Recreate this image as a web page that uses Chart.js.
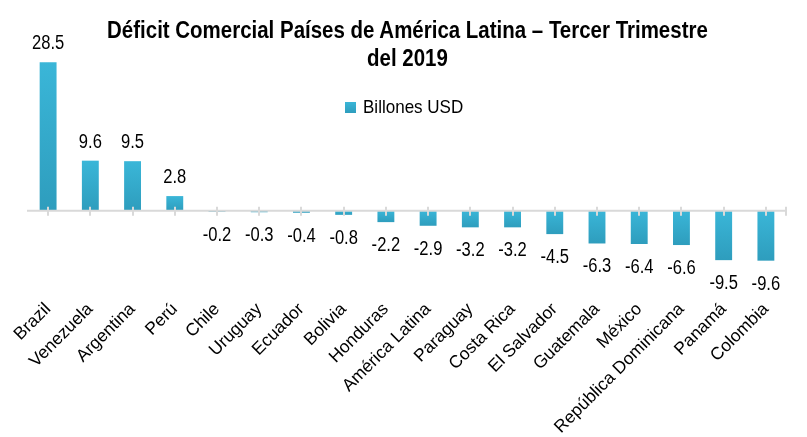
<!DOCTYPE html>
<html>
<head>
<meta charset="utf-8">
<script src="https://cdn.jsdelivr.net/npm/chart.js@4.4.1/dist/chart.umd.min.js"></script>
<style>
  html, body { margin: 0; padding: 0; background: #fff; }
  #wrap { position: relative; width: 807px; height: 437px; }
  #title {
    position: absolute; left: 4px; top: 16px; width: 807px;
    text-align: center; font: bold 23px 'Liberation Sans', Arial, sans-serif;
    line-height: 28px; color: #000;
    transform: scaleX(0.89); transform-origin: 403px 0;
  }
  #legend {
    position: absolute; left: 345px; top: 96px; height: 22px;
    font: 18.5px 'Liberation Sans', Arial, sans-serif; line-height: 22px; color: #000;
    white-space: nowrap;
  }
  #legend .box {
    position: absolute; left: 0; top: 6px; width: 11px; height: 11px;
    background: linear-gradient(#3ab6d8, #2e9dbd);
  }
  #legend .txt {
    position: absolute; left: 18px; top: 0;
    transform: scaleX(0.92); transform-origin: 0 0;
  }
</style>
</head>
<body>
<div id="wrap">
  <canvas id="chart" width="807" height="437"></canvas>
  <div id="title">Déficit Comercial Países de América Latina – Tercer Trimestre<br>del 2019</div>
  <div id="legend"><span class="box"></span><span class="txt" id="legendTxt"></span></div>
</div>
<script>
// Datos del gráfico
const paises = ['Brazil', 'Venezuela', 'Argentina', 'Perú', 'Chile', 'Uruguay', 'Ecuador', 'Bolivia', 'Honduras',
    'América Latina', 'Paraguay', 'Costa Rica', 'El Salvador', 'Guatemala', 'México', 'República Dominicana', 'Panamá', 'Colombia'];
const deficit = [28.5, 9.6, 9.5, 2.8, -0.2, -0.3, -0.4, -0.8, -2.2, -2.9, -3.2, -3.2, -4.5, -6.3, -6.4, -6.6, -9.5, -9.6];
const serie = 'Billones USD';

document.getElementById('legendTxt').textContent = serie;

// degradado por barra (claro arriba, oscuro abajo)
function barFill(ctx) {
    const chart = ctx.chart;
    const y = chart.scales && chart.scales.y;
    if (ctx.type !== 'data' || !y) return '#35acd0';
    const v = ctx.raw;
    const a = y.getPixelForValue(Math.max(v, 0));
    const b = y.getPixelForValue(Math.min(v, 0));
    if (!isFinite(a) || !isFinite(b) || a === b) return '#35acd0';
    const g = chart.ctx.createLinearGradient(0, a, 0, b);
    g.addColorStop(0, '#3ab6d8');
    g.addColorStop(1, '#2e9dbd');
    return g;
}

// línea del cero con marcas y etiquetas de valores
const ejeYValores = {
    id: 'ejeYValores',
    afterDatasetsDraw(chart) {
        const c = chart.ctx;
        const x = chart.scales.x, y = chart.scales.y;
        const y0 = y.getPixelForValue(0);
        const area = chart.chartArea;
        c.save();
        c.strokeStyle = '#d9d9d9';
        c.lineWidth = 2;
        c.beginPath();
        c.moveTo(area.left, y0);
        c.lineTo(area.right, y0);
        paises.forEach((p, i) => {
            const px = Math.round(x.getPixelForValue(i));
            c.moveTo(px, y0 - 4);
            c.lineTo(px, y0 + 5);
        });
        c.moveTo(area.right - 1, y0 - 4);
        c.lineTo(area.right - 1, y0 + 5);
        c.stroke();

        c.fillStyle = '#000';
        c.font = "19.5px 'Liberation Sans', Arial, sans-serif";
        c.textAlign = 'center';
        c.textBaseline = 'alphabetic';
        chart.getDatasetMeta(0).data.forEach((el, i) => {
            const v = deficit[i];
            const ty = v >= 0 ? el.y - 13 : el.y + 29;
            c.save();
            c.translate(el.x, ty);
            c.scale(0.85, 1);
            c.fillText(v.toFixed(1), 0, 0);
            c.restore();
        });
        c.restore();
    }
};

new Chart(document.getElementById('chart').getContext('2d'), {
    type: 'bar',
    data: {
        labels: paises,
        datasets: [{
            label: serie,
            data: deficit,
            backgroundColor: barFill,
            borderWidth: 0,
            barPercentage: 0.4,
            categoryPercentage: 1
        }]
    },
    options: {
        responsive: false,
        animation: false,
        layout: { padding: { left: 27, right: 20, top: 44, bottom: 0 } },
        scales: {
            x: {
                grid: { display: false, drawTicks: false },
                border: { display: false },
                ticks: {
                    minRotation: 45, maxRotation: 45, autoSkip: false, padding: 5,
                    color: '#000',
                    font: { family: "'Liberation Sans', Arial, sans-serif", size: 17.5 }
                },
                afterFit: s => { s.height = 143; }
            },
            y: {
                display: false,
                min: -16, max: 32
            }
        },
        plugins: {
            legend: { display: false },
            tooltip: { enabled: false }
        }
    },
    plugins: [ejeYValores]
});
</script>
</body>
</html>
